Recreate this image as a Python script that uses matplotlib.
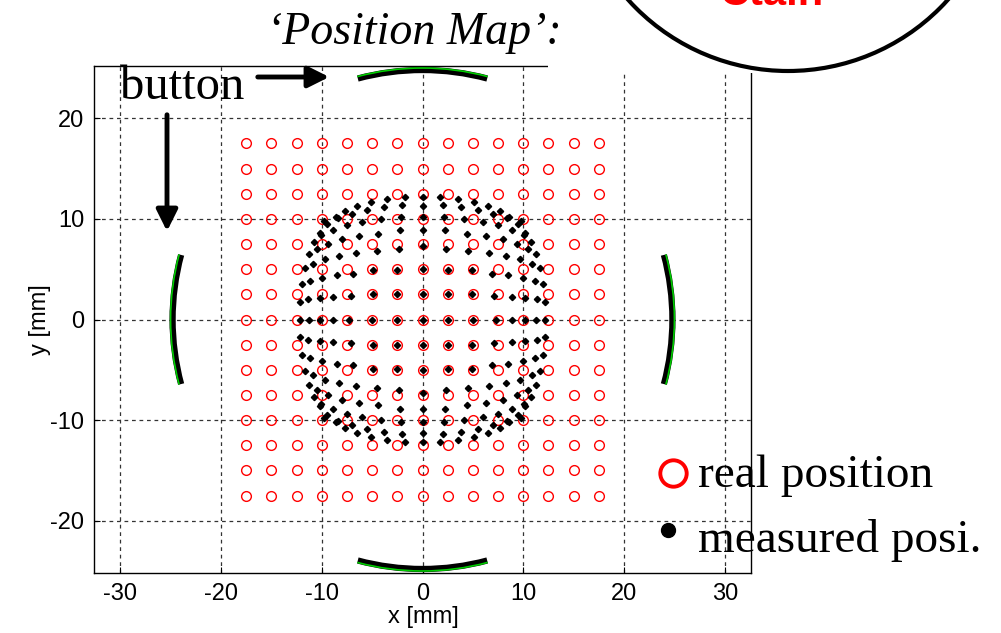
import matplotlib
matplotlib.use('Agg')
import matplotlib.pyplot as plt
from matplotlib.patches import Arc, Circle, Rectangle
from matplotlib.lines import Line2D
from matplotlib.transforms import IdentityTransform

plt.rcParams['axes.unicode_minus'] = False

# real beam positions on the test grid [mm]
grid_pos = [-17.5, -15.0, -12.5, -10.0, -7.5, -5.0, -2.5, 0.0,
            2.5, 5.0, 7.5, 10.0, 12.5, 15.0, 17.5]

# measured positions, one row per real y (17.5 at top down to -17.5),
# one column per real x (-17.5 ... 17.5)
meas_x = [
    [-9.8, -8.6, -7.7, -6.5, -5.1, -3.5, -1.75, 0, 1.75, 3.5, 5.1, 6.5, 7.7, 8.6, 9.8],
    [-10.2, -9.45, -8.4, -7.0, -5.5, -3.8, -2.0, 0, 2.0, 3.8, 5.5, 7.0, 8.4, 9.45, 10.2],
    [-10.8, -10.1, -8.9, -7.5, -6.0, -4.1, -2.1, 0, 2.1, 4.1, 6.0, 7.5, 8.9, 10.1, 10.8],
    [-11.3, -10.5, -9.4, -8.0, -6.3, -4.4, -2.2, 0, 2.2, 4.4, 6.3, 8.0, 9.4, 10.5, 11.3],
    [-11.7, -10.9, -9.7, -8.3, -6.6, -4.5, -2.3, 0, 2.3, 4.5, 6.6, 8.3, 9.7, 10.9, 11.7],
    [-12.0, -11.2, -10.0, -8.5, -6.85, -4.9, -2.5, 0, 2.5, 4.9, 6.85, 8.5, 10.0, 11.2, 12.0],
    [-12.15, -11.4, -10.2, -8.85, -7.05, -4.95, -2.5, 0, 2.5, 4.95, 7.05, 8.85, 10.2, 11.4, 12.15],
    [-12.2, -11.3, -10.2, -8.9, -7.3, -5.0, -2.5, 0, 2.5, 5.0, 7.3, 8.9, 10.2, 11.3, 12.2],
    [-12.15, -11.4, -10.2, -8.85, -7.05, -4.95, -2.5, 0, 2.5, 4.95, 7.05, 8.85, 10.2, 11.4, 12.15],
    [-12.0, -11.2, -10.0, -8.5, -6.85, -4.9, -2.5, 0, 2.5, 4.9, 6.85, 8.5, 10.0, 11.2, 12.0],
    [-11.7, -10.9, -9.7, -8.3, -6.6, -4.5, -2.3, 0, 2.3, 4.5, 6.6, 8.3, 9.7, 10.9, 11.7],
    [-11.3, -10.5, -9.4, -8.0, -6.3, -4.4, -2.2, 0, 2.2, 4.4, 6.3, 8.0, 9.4, 10.5, 11.3],
    [-10.8, -10.1, -8.9, -7.5, -6.0, -4.1, -2.1, 0, 2.1, 4.1, 6.0, 7.5, 8.9, 10.1, 10.8],
    [-10.2, -9.45, -8.4, -7.0, -5.5, -3.8, -2.0, 0, 2.0, 3.8, 5.5, 7.0, 8.4, 9.45, 10.2],
    [-9.8, -8.6, -7.7, -6.5, -5.1, -3.5, -1.75, 0, 1.75, 3.5, 5.1, 6.5, 7.7, 8.6, 9.8],
]
meas_y = [
    [9.8, 10.2, 10.8, 11.3, 11.7, 12.0, 12.15, 12.2, 12.15, 12.0, 11.7, 11.3, 10.8, 10.2, 9.8],
    [8.6, 9.45, 10.1, 10.5, 10.9, 11.2, 11.4, 11.3, 11.4, 11.2, 10.9, 10.5, 10.1, 9.45, 8.6],
    [7.7, 8.4, 8.9, 9.4, 9.7, 10.0, 10.2, 10.2, 10.2, 10.0, 9.7, 9.4, 8.9, 8.4, 7.7],
    [6.5, 7.0, 7.5, 8.0, 8.3, 8.5, 8.85, 8.9, 8.85, 8.5, 8.3, 8.0, 7.5, 7.0, 6.5],
    [5.1, 5.5, 6.0, 6.3, 6.6, 6.85, 7.05, 7.3, 7.05, 6.85, 6.6, 6.3, 6.0, 5.5, 5.1],
    [3.5, 3.8, 4.1, 4.4, 4.5, 4.9, 4.95, 5.0, 4.95, 4.9, 4.5, 4.4, 4.1, 3.8, 3.5],
    [1.75, 2.0, 2.1, 2.2, 2.3, 2.5, 2.5, 2.5, 2.5, 2.5, 2.3, 2.2, 2.1, 2.0, 1.75],
    [0, 0, 0, 0, 0, 0, 0, 0, 0, 0, 0, 0, 0, 0, 0],
    [-1.75, -2.0, -2.1, -2.2, -2.3, -2.5, -2.5, -2.5, -2.5, -2.5, -2.3, -2.2, -2.1, -2.0, -1.75],
    [-3.5, -3.8, -4.1, -4.4, -4.5, -4.9, -4.95, -5.0, -4.95, -4.9, -4.5, -4.4, -4.1, -3.8, -3.5],
    [-5.1, -5.5, -6.0, -6.3, -6.6, -6.85, -7.05, -7.3, -7.05, -6.85, -6.6, -6.3, -6.0, -5.5, -5.1],
    [-6.5, -7.0, -7.5, -8.0, -8.3, -8.5, -8.85, -8.9, -8.85, -8.5, -8.3, -8.0, -7.5, -7.0, -6.5],
    [-7.7, -8.4, -8.9, -9.4, -9.7, -10.0, -10.2, -10.2, -10.2, -10.0, -9.7, -9.4, -8.9, -8.4, -7.7],
    [-8.6, -9.45, -10.1, -10.5, -10.9, -11.2, -11.4, -11.3, -11.4, -11.2, -10.9, -10.5, -10.1, -9.45, -8.6],
    [-9.8, -10.2, -10.8, -11.3, -11.7, -12.0, -12.15, -12.2, -12.15, -12.0, -11.7, -11.3, -10.8, -10.2, -9.8],
]

# pickup buttons: centre angle [deg], angular width [deg], radius [mm]
button_angles = [0, 90, 180, 270]
button_span = 30
button_radius = 24.8

W, H = 1001, 633


def fx(px):
    return px / W


def fy(py):
    return 1 - py / H


fig = plt.figure(figsize=(W / 100, H / 100), dpi=100)
ax = fig.add_axes([fx(94), fy(573), fx(751) - fx(94), fy(66) - fy(573)])

real_x = [x for y in grid_pos for x in grid_pos]
real_y = [y for y in grid_pos[::-1] for x in grid_pos]
mx = [v for row in meas_x for v in row]
my = [v for row in meas_y for v in row]

ax.plot(real_x, real_y, 'o', mfc='none', mec='red', ms=7, mew=1.0, zorder=3)
ax.plot(mx, my, 'D', color='black', ms=3.2, zorder=4)

for ang in button_angles:
    ax.add_patch(Arc((0, 0), 2 * button_radius, 2 * button_radius,
                     theta1=ang - button_span / 2, theta2=ang + button_span / 2,
                     color='black', lw=4.5, zorder=5))
    ax.add_patch(Arc((0, 0), 2 * (button_radius + 0.2), 2 * (button_radius + 0.2),
                     theta1=ang - button_span / 2, theta2=ang + button_span / 2,
                     color='#00cc00', lw=1.2, zorder=6))

ax.set_xlim(-32.6, 32.6)
ax.set_ylim(-25.2, 25.2)
ax.set_xticks([-30, -20, -10, 0, 10, 20, 30])
ax.set_yticks([-20, -10, 0, 10, 20])
ax.grid(True, color='#333333', linestyle=(0, (3, 3)), linewidth=0.9)
ax.set_axisbelow(True)
ax.tick_params(direction='in', length=4, labelsize=17, pad=7)
for lab in ax.get_xticklabels() + ax.get_yticklabels():
    lab.set_family('Liberation Sans')
for sp in ax.spines.values():
    sp.set_linewidth(1.0)

fig.text(fx(423), fy(617), 'x [mm]', ha='center', va='center',
         fontsize=17, family='Liberation Sans')
fig.text(fx(40), fy(320), 'y [mm]', ha='center', va='center', rotation=90,
         fontsize=17, family='Liberation Sans')

# pasted picture in the upper right hides part of the frame
fig.add_artist(Rectangle((fx(548), fy(73)), 1, 1, transform=fig.transFigure,
                         facecolor='white', edgecolor='none', zorder=10))
fig.add_artist(Circle((788, H + 144), 215, transform=IdentityTransform(),
                      facecolor='white', edgecolor='black', lw=3, zorder=11))
fig.text(fx(771), fy(5), 'Ctain', ha='center', va='baseline', color='red',
         fontsize=30, fontweight='bold', family='Liberation Sans', zorder=12)

serif = 'Liberation Serif'
fig.text(fx(414), fy(44), '\u2018Position Map\u2019:', ha='center', va='baseline',
         fontsize=33, style='italic', family=serif, zorder=12)
fig.text(fx(120), fy(99), 'button', ha='left', va='baseline',
         fontsize=35, family=serif, zorder=12)

arrow = dict(arrowstyle='-|>', lw=3.5, color='black', mutation_scale=32)
ax.annotate('', xy=(fx(332), fy(77)), xytext=(fx(255), fy(77)),
            xycoords='figure fraction', textcoords='figure fraction',
            arrowprops=arrow, annotation_clip=False)
ax.annotate('', xy=(fx(167), fy(234)), xytext=(fx(167), fy(112)),
            xycoords='figure fraction', textcoords='figure fraction',
            arrowprops=arrow, annotation_clip=False)

# hand-made legend
fig.add_artist(Line2D([fx(673)], [fy(473)], transform=fig.transFigure, marker='o',
                      ms=19, mfc='none', mec='red', mew=2.8, zorder=12))
fig.add_artist(Line2D([fx(668)], [fy(530)], transform=fig.transFigure, marker='o',
                      ms=10, color='black', zorder=12))
fig.text(fx(698), fy(487), 'real position', ha='left', va='baseline',
         fontsize=34, family=serif, zorder=12)
fig.text(fx(698), fy(552), 'measured posi.', ha='left', va='baseline',
         fontsize=34, family=serif, zorder=12)

fig.savefig('out.png', dpi=100)
